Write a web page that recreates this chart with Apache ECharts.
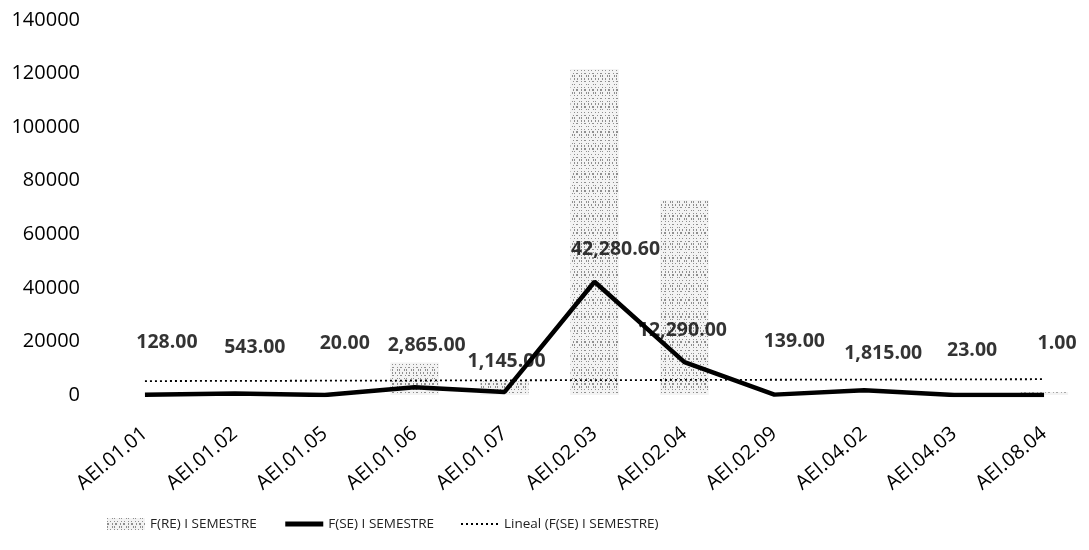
<!DOCTYPE html>
<html>
<head>
<meta charset="utf-8">
<script src="https://cdn.jsdelivr.net/npm/echarts@6/dist/echarts.min.js"></script>
<style>
html,body{margin:0;padding:0;background:#fff;}
#chart{width:1089px;height:550px;}
</style>
</head>
<body>
<div id="chart"></div>
<script>
// ---- data ----
const categories = ['AEI.01.01','AEI.01.02','AEI.01.05','AEI.01.06','AEI.01.07','AEI.02.03','AEI.02.04','AEI.02.09','AEI.04.02','AEI.04.03','AEI.08.04'];
const reValues = [0, 0, 0, 12000, 5000, 121500, 72800, 0, 0, 0, 1000];
const seValues = [128, 543, 20, 2865, 1145, 42280.6, 12290, 139, 1815, 23, 1];
const trendStart = 5200;
const trendEnd = 5900;
const seriesNames = ['F(RE) I SEMESTRE', 'F(SE) I SEMESTRE', 'Lineal (F(SE) I SEMESTRE)'];
const yTicks = [0, 20000, 40000, 60000, 80000, 100000, 120000, 140000];

// ---- label placement (style only) ----
const labelDx = [22, 20, 20, 12, 2, 21, -2, 20, 19, 18, 13];
const labelDy = [-52, -46, -52, -42, -30, -32, -32, -53, -37, -45, -52];

const trendData = categories.map((c, i) => i === 0 ? trendStart : (i === categories.length - 1 ? trendEnd : null));

const fmt = v => v.toLocaleString('en-US', {minimumFractionDigits: 2, maximumFractionDigits: 2});

const chart = echarts.init(document.getElementById('chart'), null, {renderer: 'canvas'});
const FONT = "'Open Sans', 'Noto Sans', sans-serif";

const decal = {
  symbol: 'rect',
  symbolSize: 1,
  color: 'rgba(60,60,60,0.55)',
  backgroundColor: '#f3f3f3',
  dashArrayX: [[1, 2, 1, 3], [2, 3, 1, 2], [1, 4, 1, 1]],
  dashArrayY: [1, 2, 1, 1, 2],
  rotation: 0
};

const hiddenSymbol = {color: 'rgba(0,0,0,0)', borderColor: 'rgba(0,0,0,0)', borderWidth: 0};

chart.setOption({
  animation: false,
  backgroundColor: '#ffffff',
  textStyle: {fontFamily: FONT},
  grid: {left: 100, top: 20, width: 999, height: 375, containLabel: false},
  legend: {
    left: 102, top: 512,
    itemWidth: 38, itemHeight: 12, itemGap: 26,
    textStyle: {fontFamily: FONT, fontSize: 13.5, color: '#222'},
    data: [
      {name: seriesNames[0], icon: 'rect', itemStyle: {color: '#f6f6f6', borderWidth: 0, decal: decal}},
      {name: seriesNames[1], itemStyle: hiddenSymbol, lineStyle: {width: 5, color: '#000'}},
      {name: seriesNames[2], itemStyle: hiddenSymbol, lineStyle: {width: 1.8, color: '#000', type: [2, 3]}}
    ]
  },
  xAxis: {
    type: 'category',
    data: categories,
    boundaryGap: true,
    axisLine: {show: false},
    axisTick: {show: false},
    axisLabel: {rotate: 40, fontSize: 20, color: '#000', margin: 36, fontFamily: FONT, interval: 0}
  },
  yAxis: {
    type: 'value',
    min: yTicks[0], max: yTicks[yTicks.length - 1], interval: 20000,
    axisLine: {show: false},
    axisTick: {show: false},
    splitLine: {show: false},
    axisLabel: {fontSize: 20, color: '#000', margin: 20, fontFamily: FONT, formatter: v => String(v)}
  },
  series: [
    {
      name: seriesNames[0],
      type: 'bar',
      data: reValues,
      barWidth: 48,
      itemStyle: {color: '#efefef', borderWidth: 0, decal: decal}
    },
    {
      name: seriesNames[1],
      type: 'line',
      data: seValues,
      symbol: 'none',
      itemStyle: {color: '#000'},
      lineStyle: {color: '#000', width: 4.5},
      z: 5
    },
    {
      type: 'scatter',
      data: seValues,
      symbolSize: 0,
      silent: true,
      z: 6,
      itemStyle: {color: 'rgba(0,0,0,0)'},
      label: {
        show: true,
        position: 'inside',
        fontSize: 19.5,
        fontWeight: 'bold',
        color: '#000',
        fontFamily: FONT,
        formatter: p => fmt(Array.isArray(p.value) ? p.value[1] : p.value)
      },
      labelLayout: p => ({dx: labelDx[p.dataIndex], dy: labelDy[p.dataIndex]})
    },
    {
      name: seriesNames[2],
      type: 'line',
      data: trendData,
      connectNulls: true,
      symbol: 'none',
      itemStyle: {color: '#000'},
      lineStyle: {color: '#000', width: 1.8, type: [2, 3]},
      z: 4
    }
  ]
});
</script>
</body>
</html>
